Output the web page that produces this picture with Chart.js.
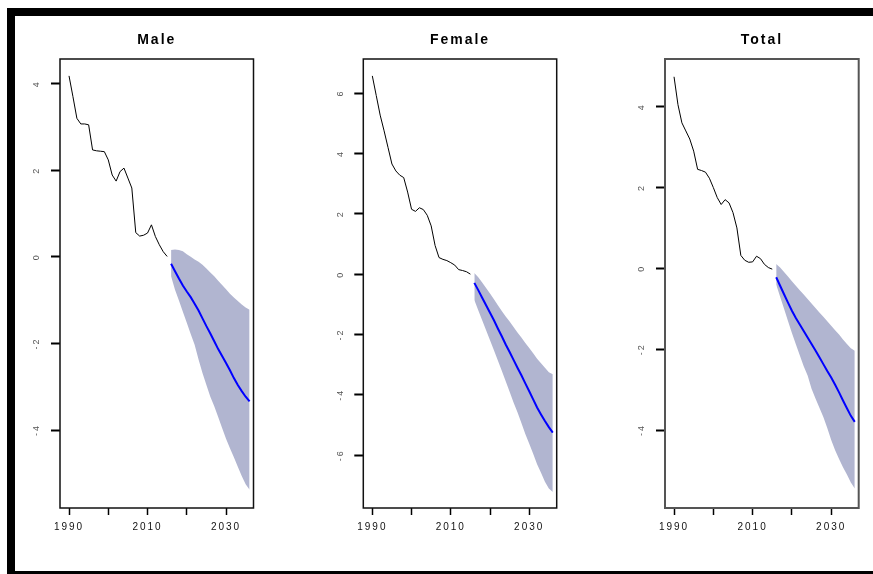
<!DOCTYPE html>
<html>
<head>
<meta charset="utf-8">
<script src="https://cdn.jsdelivr.net/npm/chart.js"></script>
<style>
  body { margin: 0; background: #fff; width: 873px; height: 574px; position: relative; overflow: hidden; }
  .bar { position: absolute; background: #000; }
  canvas { position: absolute; top: 0; }
</style>
</head>
<body>
<div class="bar" style="left:7px;top:8px;width:866px;height:8px"></div>
<div class="bar" style="left:7px;top:8px;width:8px;height:566px"></div>
<div class="bar" style="left:7px;top:571px;width:866px;height:3px"></div>
<canvas id="male" width="290" height="574" style="left:0px"></canvas>
<canvas id="female" width="290" height="574" style="left:290px"></canvas>
<canvas id="total" width="293" height="574" style="left:580px"></canvas>
<script>
Chart.defaults.font.family = "'Liberation Sans', Arial, sans-serif";

const histYears = [1990,1991,1992,1993,1994,1995,1996,1997,1998,1999,2000,2001,2002,
                   2003,2004,2005,2006,2007,2008,2009,2010,2011,2012,2013,2014,2015];
const fcYears = [2016,2017,2018,2019,2020,2021,2022,2023,2024,2025,2026,
                 2027,2028,2029,2030,2031,2032,2033,2034,2035,2036];

const xTickVals = [1990, 2000, 2010, 2020, 2030];
const xTickLabels = ["1990", "", "2010", "", "2030"];

// Male
const maleHist = [4.18,3.70,3.20,3.07,3.07,3.05,2.47,2.45,2.44,2.43,2.24,1.89,1.75,
                  1.97,2.05,1.82,1.59,0.56,0.48,0.50,0.55,0.74,0.47,0.28,0.12,0.01];
const maleMean = [-0.16,-0.33,-0.50,-0.66,-0.80,-0.93,-1.08,-1.24,-1.42,-1.60,-1.77,
                  -1.95,-2.13,-2.29,-2.45,-2.62,-2.80,-2.96,-3.10,-3.23,-3.34];
const maleUpper = [0.16,0.17,0.16,0.13,0.06,0.00,-0.06,-0.11,-0.18,-0.27,-0.36,
                   -0.45,-0.55,-0.65,-0.75,-0.85,-0.94,-1.02,-1.10,-1.17,-1.22];
const maleLower = [-0.45,-0.76,-1.01,-1.27,-1.52,-1.78,-2.03,-2.37,-2.68,-2.96,-3.23,
                   -3.45,-3.70,-3.95,-4.20,-4.42,-4.63,-4.85,-5.06,-5.25,-5.38];
const maleTicks = [-4, -2, 0, 2, 4];

// Female
const femaleHist = [6.57,5.92,5.27,4.75,4.20,3.65,3.42,3.28,3.20,2.72,2.15,2.08,2.20,
                    2.14,1.95,1.60,0.95,0.55,0.49,0.45,0.38,0.30,0.15,0.12,0.08,0.00];
const femaleMean = [-0.29,-0.53,-0.78,-1.03,-1.28,-1.53,-1.80,-2.06,-2.33,-2.58,-2.84,
                    -3.10,-3.35,-3.62,-3.88,-4.15,-4.42,-4.65,-4.87,-5.07,-5.25];
const femaleUpper = [0.04,-0.10,-0.28,-0.46,-0.64,-0.83,-1.03,-1.22,-1.40,-1.57,-1.75,
                     -1.93,-2.10,-2.28,-2.45,-2.62,-2.80,-2.95,-3.10,-3.25,-3.32];
const femaleLower = [-0.86,-1.20,-1.53,-1.86,-2.19,-2.52,-2.86,-3.20,-3.55,-3.90,-4.25,
                     -4.58,-4.93,-5.30,-5.62,-5.95,-6.30,-6.58,-6.88,-7.10,-7.22];
const femaleTicks = [-6, -4, -2, 0, 2, 4, 6];

// Total
const totalHist = [4.74,4.05,3.60,3.40,3.20,2.90,2.45,2.42,2.38,2.23,2.00,1.75,1.58,
                   1.70,1.62,1.38,1.00,0.32,0.20,0.15,0.16,0.30,0.24,0.10,0.02,-0.02];
const totalMean = [-0.22,-0.43,-0.64,-0.85,-1.05,-1.23,-1.39,-1.55,-1.71,-1.87,-2.03,
                   -2.20,-2.37,-2.54,-2.70,-2.88,-3.07,-3.27,-3.46,-3.65,-3.80];
const totalUpper = [0.11,0.02,-0.09,-0.20,-0.32,-0.43,-0.54,-0.65,-0.76,-0.87,-0.98,
                    -1.09,-1.20,-1.31,-1.42,-1.53,-1.64,-1.76,-1.87,-1.98,-2.04];
const totalLower = [-0.40,-0.70,-1.00,-1.30,-1.60,-1.88,-2.15,-2.42,-2.65,-2.98,-3.22,
                    -3.45,-3.68,-3.95,-4.25,-4.50,-4.72,-4.92,-5.10,-5.30,-5.45];
const totalTicks = [-4, -2, 0, 2, 4];

const BAND = "rgb(177,181,208)";

function pts(xs, ys) {
  return xs.map((x, i) => ({ x, y: ys[i] }));
}

// box round the plot area, like R's box()
function boxPlugin(color, width) {
  return {
    id: "box",
    afterDatasetsDraw(c) {
      const a = c.chartArea, g = c.ctx;
      g.save();
      g.strokeStyle = color;
      g.lineWidth = width;
      g.strokeRect(a.left, a.top, a.right - a.left, a.bottom - a.top);
      g.restore();
    }
  };
}

const spacing = { id: "spacing", beforeDraw(c) { c.ctx.letterSpacing = "2px"; } };

function panel(id, title, hist, mean, upper, lower, yMin, yMax, yTicks, leftW, rightPad, boxColor, boxW) {
  return new Chart(document.getElementById(id), {
    type: "line",
    data: {
      datasets: [
        { data: pts(fcYears, upper), borderWidth: 0, borderColor: "rgba(0,0,0,0)",
          backgroundColor: BAND, fill: "+1", order: 2, pointRadius: 0 },
        { data: pts(fcYears, lower), borderWidth: 0, borderColor: "rgba(0,0,0,0)",
          fill: false, order: 2, pointRadius: 0 },
        { data: pts(fcYears, mean), borderColor: "#0000ff", borderWidth: 2,
          fill: false, order: 1, pointRadius: 0 },
        { data: pts(histYears, hist), borderColor: "#000", borderWidth: 1,
          fill: false, order: 1, pointRadius: 0 }
      ]
    },
    options: {
      responsive: false,
      animation: false,
      events: [],
      layout: { padding: { left: 0, right: rightPad, top: 0, bottom: 0 } },
      plugins: {
        legend: { display: false },
        tooltip: { enabled: false },
        title: {
          display: true, text: title, fullSize: false, color: "#000",
          font: { size: 14, weight: "bold" },
          padding: { top: 31.6, bottom: 10.6 }
        }
      },
      scales: {
        x: {
          type: "linear", min: 1987.7, max: 2037,
          afterFit: s => { s.height = 66; },
          afterBuildTicks: s => { s.ticks = xTickVals.map(v => ({ value: v })); },
          grid: { drawOnChartArea: false, tickLength: 7, tickWidth: 1.5, tickColor: "#000" },
          border: { display: false },
          ticks: { callback: (v, i) => xTickLabels[i], color: "#111", font: { size: 10 },
                   padding: 6, maxRotation: 0, autoSkip: false }
        },
        y: {
          min: yMin, max: yMax,
          afterFit: s => { s.width = leftW; },
          afterBuildTicks: s => { s.ticks = yTicks.map(v => ({ value: v })); },
          grid: { drawOnChartArea: false, tickLength: 9, tickWidth: 2, tickColor: "#000" },
          border: { display: false },
          ticks: { minRotation: 90, maxRotation: 90, crossAlign: "center", padding: 10,
                   color: "#555", font: { size: 9 }, callback: v => String(v), autoSkip: false }
        }
      }
    },
    plugins: [boxPlugin(boxColor, boxW), spacing]
  });
}

panel("male", "Male", maleHist, maleMean, maleUpper, maleLower, -5.8, 4.57, maleTicks, 60, 36.5, "#111", 1.5);
panel("female", "Female", femaleHist, femaleMean, femaleUpper, femaleLower, -7.75, 7.13, femaleTicks, 73.3, 23.3, "#111", 1.5);
panel("total", "Total", totalHist, totalMean, totalUpper, totalLower, -5.93, 5.18, totalTicks, 85, 14.3, "#555", 2);
</script>
</body>
</html>
